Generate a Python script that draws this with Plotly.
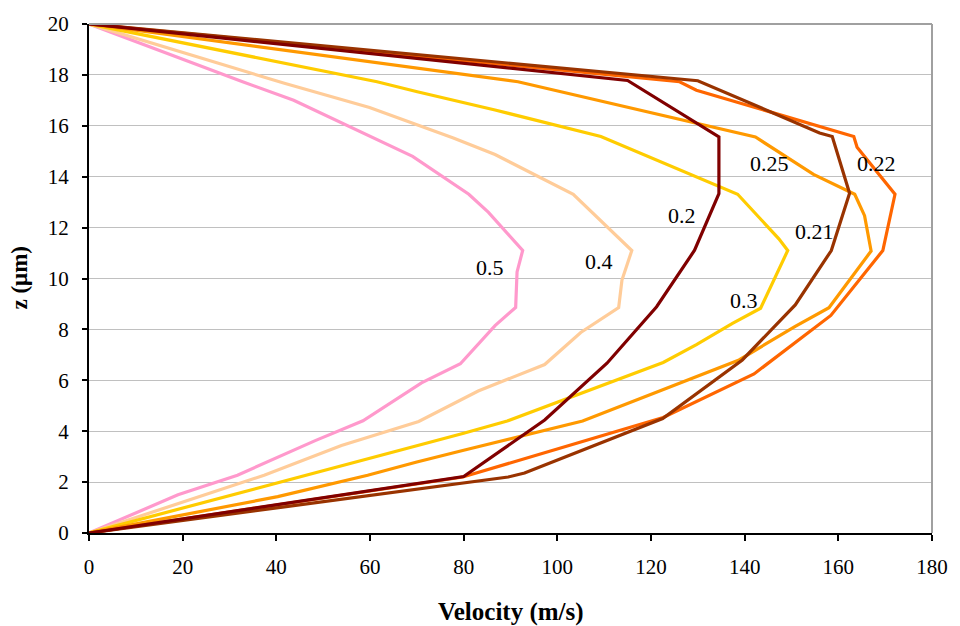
import plotly.graph_objects as go

# Velocity profiles across the channel height for several parameter values
labels = ["0.5", "0.4", "0.3", "0.25", "0.22", "0.21", "0.2"]

v_05 = [0, 19, 31.7, 48.3, 58.5, 71, 79.3, 86.7, 91.1, 91.4, 92.6, 85.3, 81.1, 69.1, 43.7, 32.8, 0]
z_05 = [0, 1.5, 2.27, 3.63, 4.41, 5.9, 6.65, 8.15, 8.86, 10.26, 11.1, 12.6, 13.31, 14.8, 17.0, 17.73, 20]

v_04 = [0, 37.4, 53.9, 70.4, 83.1, 97.3, 105, 113.1, 113.8, 115.9, 103.4, 86.7, 77.8, 59.9, 41.9, 0]
z_04 = [0, 2.27, 3.44, 4.38, 5.58, 6.62, 7.88, 8.86, 9.94, 11.1, 13.31, 14.87, 15.52, 16.72, 17.66, 20]

v_03 = [0, 40, 80, 89.3, 122.6, 129.7, 137.4, 143.4, 145.2, 149.2, 147.3, 138.5, 109.3, 86.7, 70.1, 61.5, 0]
z_03 = [0, 1.95, 3.92, 4.4, 6.7, 7.4, 8.24, 8.83, 9.55, 11.1, 11.56, 13.31, 15.58, 16.62, 17.34, 17.73, 20]

v_025 = [0, 40.3, 59.5, 70, 80, 105.4, 138.8, 150.8, 158, 167, 165.6, 163.5, 154.7, 142.3, 91.6, 0]
z_025 = [0, 1.43, 2.27, 2.79, 3.25, 4.4, 6.8, 8.12, 8.85, 11.08, 12.47, 13.31, 14.09, 15.56, 17.73, 20]

v_022 = [0, 79.8, 122.6, 142, 158.4, 168, 169.5, 172.1, 164, 163.3, 129.7, 126.1, 0]
z_022 = [0, 2.2, 4.54, 6.25, 8.55, 10.78, 11.1, 13.31, 15.16, 15.58, 17.4, 17.73, 20]

v_021 = [0, 89.5, 93, 122.5, 139.5, 150.8, 158.5, 162.4, 158.7, 156, 130, 0]
z_021 = [0, 2.2, 2.36, 4.5, 6.8, 8.96, 11.1, 13.35, 15.58, 15.72, 17.77, 20]

v_02 = [0, 80, 97.3, 110.6, 121.2, 129.3, 134.5, 134.5, 115, 0]
z_02 = [0, 2.22, 4.44, 6.67, 8.89, 11.11, 13.33, 15.56, 17.78, 20]

velocities = [v_05, v_04, v_03, v_025, v_022, v_021, v_02]
heights = [z_05, z_04, z_03, z_025, z_022, z_021, z_02]
colors = ["#FF99CC", "#FFCC99", "#FFCC00", "#FF9900", "#FF6600", "#993300", "#800000"]

# Where each curve's label sits (velocity, z)
label_x = [85.7, 108.9, 139.9, 145.3, 168.2, 154.9, 126.7]
label_z = [10.45, 10.65, 9.13, 14.51, 14.51, 11.85, 12.47]

x_ticks = [0, 20, 40, 60, 80, 100, 120, 140, 160, 180]
z_ticks = [0, 2, 4, 6, 8, 10, 12, 14, 16, 18, 20]

SERIF = "Liberation Serif"

fig = go.Figure()
for name, v, z, c in zip(labels, velocities, heights, colors):
    fig.add_trace(go.Scatter(x=v, y=z, mode="lines", name=name,
                             line=dict(color=c, width=3.2), showlegend=False))

for name, lx, lz in zip(labels, label_x, label_z):
    fig.add_annotation(x=lx, y=lz, text=name, showarrow=False,
                       font=dict(family=SERIF, size=22, color="black"))

# Axis titles
fig.add_annotation(xref="paper", yref="paper", x=0.5, y=-0.155, yanchor="middle",
                   text="<b>Velocity (m/s)</b>", showarrow=False,
                   font=dict(family=SERIF, size=25, color="black"))
fig.add_annotation(xref="paper", yref="paper", x=-0.083, y=0.5, xanchor="center",
                   text="<b>z (μm)</b>", textangle=-90, showarrow=False,
                   font=dict(family=SERIF, size=23, color="black"))

# Grey frame on the top and right edges of the plot area
fig.add_shape(type="line", xref="paper", yref="paper", x0=0, x1=1, y0=1, y1=1,
              line=dict(color="#A0A0A0", width=2))
fig.add_shape(type="line", xref="paper", yref="paper", x0=1, x1=1, y0=0, y1=1,
              line=dict(color="#A0A0A0", width=2))

fig.update_xaxes(range=[0, 180], tickvals=x_ticks, showgrid=False, zeroline=False,
                 showline=True, linecolor="black", linewidth=2,
                 ticks="outside", ticklen=6, tickwidth=1.5, tickcolor="black",
                 ticklabelstandoff=8,
                 tickfont=dict(family=SERIF, size=21, color="black"))
fig.update_yaxes(range=[0, 20], tickvals=z_ticks, showgrid=True, gridcolor="#C0C0C0",
                 gridwidth=1, zeroline=False,
                 showline=True, linecolor="black", linewidth=2,
                 ticks="outside", ticklen=5, tickwidth=1.5, tickcolor="black",
                 ticklabelstandoff=9,
                 tickfont=dict(family=SERIF, size=21, color="black"))

fig.update_layout(width=960, height=626,
                  margin=dict(l=89, r=18, t=20, b=93),
                  paper_bgcolor="white", plot_bgcolor="white")

fig.write_html("out.html")
